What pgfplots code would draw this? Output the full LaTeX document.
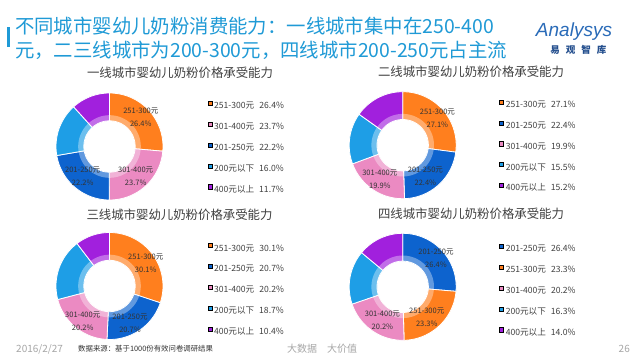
\documentclass[border=0pt]{standalone}
\usepackage{fontspec}
\setmainfont{Noto Sans CJK SC}
\newfontfamily\logofont{Liberation Sans}
\usepackage{pgfplots}
\pgfplotsset{compat=1.18}
\usepgfplotslibrary{polar}

\definecolor{cOrange}{HTML}{FF7F1E}
\definecolor{cPink}{HTML}{EB8AC2}
\definecolor{cBlue}{HTML}{0D63CE}
\definecolor{cCyan}{HTML}{1E9EE6}
\definecolor{cPurple}{HTML}{A120DD}
\definecolor{titleblue}{HTML}{1F9AD6}
\definecolor{logoblue}{HTML}{2A6BB8}
\definecolor{logodark}{HTML}{244F8E}
\definecolor{txt}{HTML}{404040}
\definecolor{footgray}{HTML}{A6A6A6}

% one donut wedge: #1 start angle, #2 end angle, #3 inner r, #4 outer r, #5 plot options
\newcount\wk
\newcommand{\dwedge}[5]{%
  \pgfmathtruncatemacro{\wn}{max(2,ceil(abs((#2)-(#1))/3))}%
  \pgfmathsetmacro{\wstep}{((#2)-(#1))/\wn}%
  \gdef\pts{}%
  \wk=0
  \loop
    \pgfmathsetmacro{\wt}{(#1)+\wstep*\the\wk}%
    \xdef\pts{\pts(\wt,#4)}%
    \advance\wk by 1
  \ifnum\wk>\wn\else\repeat
  \wk=0
  \loop
    \pgfmathsetmacro{\wt}{(#2)-\wstep*\the\wk}%
    \xdef\pts{\pts(\wt,#3)}%
    \advance\wk by 1
  \ifnum\wk>\wn\else\repeat
  \edef\dtmp{\noexpand\addplot[#5] coordinates {\pts} -- cycle;}%
  \dtmp
}
% donut from list value/colour, clockwise from 12 o'clock
\newcommand{\donut}[1]{%
  \gdef\dtot{0}%
  \foreach \dval/\dcol in {#1}{\pgfmathsetmacro{\dtmpa}{\dtot+\dval}\xdef\dtot{\dtmpa}}%
  \gdef\dcum{0}%
  \foreach \dval/\dcol in {#1}{%
    \pgfmathsetmacro{\da}{90-\dcum/\dtot*360}%
    \pgfmathsetmacro{\dtmpa}{\dcum+\dval}\xdef\dcum{\dtmpa}%
    \pgfmathsetmacro{\db}{90-\dcum/\dtot*360}%
    \dwedge{\da}{\db}{0.48}{1}{fill=\dcol,draw=white,line width=0.8pt,forget plot}%
  }%
  \dwedge{90}{-270}{0.48}{0.585}{fill=white,fill opacity=0.35,draw=none,forget plot}%
}

\pgfplotsset{
  legend image code/.code={\fill[#1] (0pt,1.2pt) rectangle (4.2pt,5.4pt);},
  dn/.style={scale only axis, width=107pt, height=107pt, hide axis,
    xmin=-270, xmax=90, ymin=0, ymax=1, clip=false, anchor=center,
    legend cell align=left,
    legend style={anchor=north west, draw=none, fill=none,
      font=\fontsize{8.6}{10}\selectfont, row sep=11.5pt, column sep=2pt,
      nodes={inner sep=0pt, text height=6pt, text depth=1.5pt, text=txt}}}
}
\tikzset{lbl/.style={align=center, inner sep=0pt, text=black!80,
    font=\fontsize{7.5}{13}\selectfont}}

\begin{document}
\begin{tikzpicture}[x=1pt,y=1pt]
\useasboundingbox (0,0) rectangle (640,360);
\fill[white] (0,0) rectangle (640,360);

% header
\fill[titleblue] (7,313) rectangle (9.5,333);
\node[anchor=base west, inner sep=0pt, text=titleblue, font=\fontsize{19.4}{22}\selectfont] at (15,326.6) {不同城市婴幼儿奶粉消费能力：一线城市集中在250-400};
\node[anchor=base west, inner sep=0pt, text=titleblue, font=\fontsize{19.4}{22}\selectfont] at (15,302.6) {元，二三线城市为200-300元，四线城市200-250元占主流};
\node[anchor=base, inner sep=0pt, text=logoblue, font=\logofont\itshape\fontsize{19}{22}\selectfont] at (574,323.3) {Analysys};
\node[inner sep=0pt, text=logodark, font=\bfseries\fontsize{9.5}{11}\selectfont] at (578.3,310) {易\hspace{6pt}观\hspace{6pt}智\hspace{6pt}库};

% subtitles
\node[text=txt, font=\fontsize{12.4}{14}\selectfont] at (180,287.3) {一线城市婴幼儿奶粉价格承受能力};
\node[text=txt, font=\fontsize{12.4}{14}\selectfont] at (471,288) {二线城市婴幼儿奶粉价格承受能力};
\node[text=txt, font=\fontsize{12.4}{14}\selectfont] at (179.5,145) {三线城市婴幼儿奶粉价格承受能力};
\node[text=txt, font=\fontsize{12.4}{14}\selectfont] at (471,146) {四线城市婴幼儿奶粉价格承受能力};

% chart 1
\begin{polaraxis}[dn, at={(109.5pt,213.5pt)}, legend style={at={(1.386,0.946)}}]
\donut{26.4/cOrange,23.7/cPink,22.2/cBlue,16.0/cCyan,11.7/cPurple}
\addlegendimage{fill=cOrange}\addlegendentry{251-300元\hspace{5pt}26.4\%}
\addlegendimage{fill=cPink}\addlegendentry{301-400元\hspace{5pt}23.7\%}
\addlegendimage{fill=cBlue}\addlegendentry{201-250元\hspace{5pt}22.2\%}
\addlegendimage{fill=cCyan}\addlegendentry{200元以下\hspace{5pt}16.0\%}
\addlegendimage{fill=cPurple}\addlegendentry{400元以上\hspace{5pt}11.7\%}
\node[lbl] at (axis cs:43,0.8) {251-300元\\26.4\%};
\node[lbl] at (axis cs:-48.6,0.74) {301-400元\\23.7\%};
\node[lbl] at (axis cs:-131.9,0.75) {201-250元\\22.2\%};
\end{polaraxis}

% chart 2
\begin{polaraxis}[dn, at={(402.7pt,214.8pt)}, legend style={at={(1.372,0.946)}}]
\donut{27.1/cOrange,22.4/cBlue,19.9/cPink,15.5/cCyan,15.2/cPurple}
\addlegendimage{fill=cOrange}\addlegendentry{251-300元\hspace{5pt}27.1\%}
\addlegendimage{fill=cBlue}\addlegendentry{201-250元\hspace{5pt}22.4\%}
\addlegendimage{fill=cPink}\addlegendentry{301-400元\hspace{5pt}19.9\%}
\addlegendimage{fill=cCyan}\addlegendentry{200元以下\hspace{5pt}15.5\%}
\addlegendimage{fill=cPurple}\addlegendentry{400元以上\hspace{5pt}15.2\%}
\node[lbl] at (axis cs:37.7,0.82) {251-300元\\27.1\%};
\node[lbl] at (axis cs:-53.9,0.72) {201-250元\\22.4\%};
\node[lbl] at (axis cs:-123.7,0.77) {301-400元\\19.9\%};
\end{polaraxis}

% chart 3
\begin{polaraxis}[dn, at={(109.5pt,74pt)}, legend style={at={(1.386,0.921)}}]
\donut{30.1/cOrange,20.7/cBlue,20.2/cPink,18.7/cCyan,10.4/cPurple}
\addlegendimage{fill=cOrange}\addlegendentry{251-300元\hspace{5pt}30.1\%}
\addlegendimage{fill=cBlue}\addlegendentry{201-250元\hspace{5pt}20.7\%}
\addlegendimage{fill=cPink}\addlegendentry{301-400元\hspace{5pt}20.2\%}
\addlegendimage{fill=cCyan}\addlegendentry{200元以下\hspace{5pt}18.7\%}
\addlegendimage{fill=cPurple}\addlegendentry{400元以上\hspace{5pt}10.4\%}
\node[lbl] at (axis cs:32.2,0.8) {251-300元\\30.1\%};
\node[lbl] at (axis cs:-61,0.79) {201-250元\\20.7\%};
\node[lbl] at (axis cs:-127.6,0.82) {301-400元\\20.2\%};
\end{polaraxis}

% chart 4
\begin{polaraxis}[dn, at={(402.7pt,73.2pt)}, legend style={at={(1.372,0.921)}}]
\donut{26.4/cBlue,23.3/cOrange,20.2/cPink,16.3/cCyan,14.0/cPurple}
\addlegendimage{fill=cBlue}\addlegendentry{201-250元\hspace{5pt}26.4\%}
\addlegendimage{fill=cOrange}\addlegendentry{251-300元\hspace{5pt}23.3\%}
\addlegendimage{fill=cPink}\addlegendentry{301-400元\hspace{5pt}20.2\%}
\addlegendimage{fill=cCyan}\addlegendentry{200元以下\hspace{5pt}16.3\%}
\addlegendimage{fill=cPurple}\addlegendentry{400元以上\hspace{5pt}14.0\%}
\node[lbl] at (axis cs:40.7,0.82) {201-250元\\26.4\%};
\node[lbl] at (axis cs:-52,0.73) {251-300元\\23.3\%};
\node[lbl] at (axis cs:-121.3,0.73) {301-400元\\20.2\%};
\end{polaraxis}

% footer
\node[anchor=west, inner sep=0pt, text=footgray, font=\fontsize{10}{12}\selectfont] at (16,11) {2016/2/27};
\node[anchor=west, inner sep=0pt, text=black!80, font=\fontsize{7.4}{9}\selectfont] at (78,11) {数据来源：基于1000份有效问卷调研结果};
\node[anchor=west, inner sep=0pt, text=footgray, font=\fontsize{10}{12}\selectfont] at (287,11) {大数据\hspace{10pt}大价值};
\node[anchor=east, inner sep=0pt, text=footgray, font=\fontsize{10}{12}\selectfont] at (630,11) {26};
\end{tikzpicture}
\end{document}
